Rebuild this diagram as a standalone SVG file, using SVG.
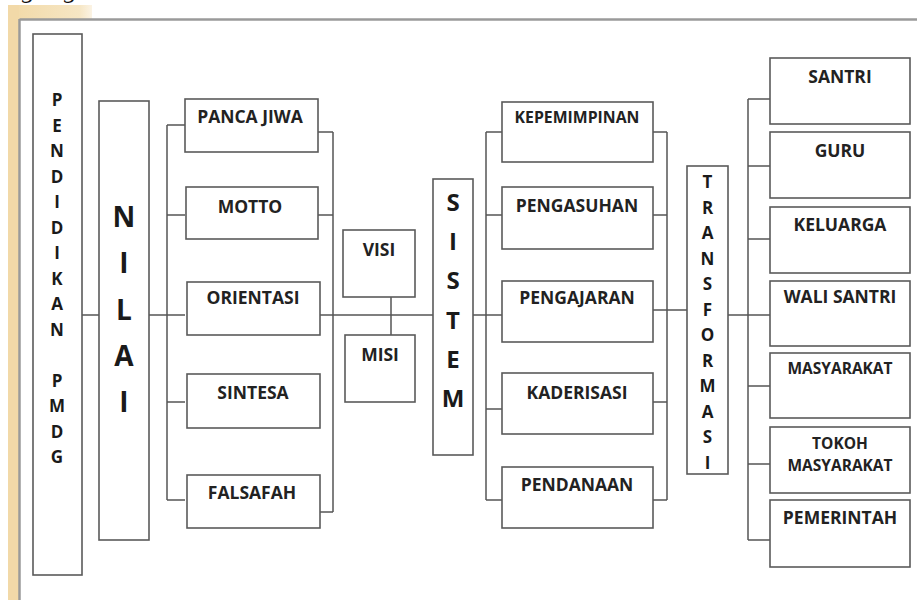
<svg xmlns="http://www.w3.org/2000/svg" width="917" height="600" viewBox="0 0 917 600">
<defs>
<linearGradient id="topfade" x1="0" y1="0" x2="1" y2="0">
<stop offset="0" stop-color="#f2d9a6"/>
<stop offset="0.85" stop-color="#f6e6c4"/>
<stop offset="1" stop-color="#fbf3e4"/>
</linearGradient>
<style>
.box{fill:#fff;stroke:#5a5a5a;stroke-width:1.6}
.ln{stroke:#555;stroke-width:1.5;fill:none}
.t{font-family:"Open Sans","Liberation Sans",sans-serif;font-weight:bold;fill:#222;text-anchor:middle;font-size:17.5px}
.s{font-size:15.5px}
.xs{font-size:15.8px}
.v{font-family:"Open Sans","Liberation Sans",sans-serif;font-weight:bold;fill:#1a1a1a;text-anchor:middle}
</style>
</defs>
<rect x="0" y="0" width="917" height="600" fill="#fff"/>
<rect x="8" y="5" width="84" height="14" fill="url(#topfade)"/>
<rect x="8" y="5" width="11" height="595" fill="#f2d9a8"/>
<line x1="19.5" y1="19.5" x2="917" y2="19.5" stroke="#9a9a9a" stroke-width="2.5"/>
<line x1="19.5" y1="19" x2="19.5" y2="600" stroke="#9a9a9a" stroke-width="2.5"/>
<text x="22" y="-2" font-family="Liberation Serif,serif" font-style="italic" font-size="26" fill="#111">g</text>
<text x="64" y="-2" font-family="Liberation Serif,serif" font-style="italic" font-size="26" fill="#111">g</text>

<g id="connectors">
<line class="ln" x1="82" y1="315" x2="99" y2="315"/>
<line class="ln" x1="149" y1="315" x2="185" y2="315"/>
<line class="ln" x1="167" y1="125" x2="167" y2="500"/>
<line class="ln" x1="167" y1="125" x2="185" y2="125"/>
<line class="ln" x1="167" y1="215" x2="185" y2="215"/>
<line class="ln" x1="167" y1="402" x2="185" y2="402"/>
<line class="ln" x1="167" y1="500" x2="185" y2="500"/>
<line class="ln" x1="333" y1="132" x2="333" y2="512"/>
<line class="ln" x1="318" y1="132" x2="333" y2="132"/>
<line class="ln" x1="318" y1="215" x2="333" y2="215"/>
<line class="ln" x1="318" y1="512" x2="333" y2="512"/>
<line class="ln" x1="318" y1="315" x2="433" y2="315"/>
<line class="ln" x1="391" y1="297" x2="391" y2="335"/>
<line class="ln" x1="473" y1="315" x2="502" y2="315"/>
<line class="ln" x1="486" y1="132" x2="486" y2="500"/>
<line class="ln" x1="486" y1="132" x2="502" y2="132"/>
<line class="ln" x1="486" y1="215" x2="502" y2="215"/>
<line class="ln" x1="486" y1="409" x2="502" y2="409"/>
<line class="ln" x1="486" y1="500" x2="502" y2="500"/>
<line class="ln" x1="667" y1="132" x2="667" y2="500"/>
<line class="ln" x1="653" y1="132" x2="667" y2="132"/>
<line class="ln" x1="653" y1="215" x2="667" y2="215"/>
<line class="ln" x1="653" y1="310" x2="687" y2="310"/>
<line class="ln" x1="653" y1="402" x2="667" y2="402"/>
<line class="ln" x1="653" y1="500" x2="667" y2="500"/>
<line class="ln" x1="728" y1="315" x2="748" y2="315"/>
<line class="ln" x1="748" y1="99" x2="748" y2="540"/>
<line class="ln" x1="748" y1="99" x2="770" y2="99"/>
<line class="ln" x1="748" y1="166" x2="770" y2="166"/>
<line class="ln" x1="748" y1="239" x2="770" y2="239"/>
<line class="ln" x1="748" y1="315" x2="770" y2="315"/>
<line class="ln" x1="748" y1="386" x2="770" y2="386"/>
<line class="ln" x1="748" y1="464" x2="770" y2="464"/>
<line class="ln" x1="748" y1="540" x2="770" y2="540"/>
</g>

<g id="pendidikan">
<rect class="box" x="33" y="34" width="49" height="541"/>
<text class="v" font-size="17"><tspan x="57" y="106">P</tspan><tspan x="57" y="131.5">E</tspan><tspan x="57" y="157">N</tspan><tspan x="57" y="182.5">D</tspan><tspan x="57" y="208">I</tspan><tspan x="57" y="233.5">D</tspan><tspan x="57" y="259">I</tspan><tspan x="57" y="284.5">K</tspan><tspan x="57" y="310">A</tspan><tspan x="57" y="335.5">N</tspan><tspan x="57" y="386.5">P</tspan><tspan x="57" y="412">M</tspan><tspan x="57" y="437.5">D</tspan><tspan x="57" y="463">G</tspan></text>
</g>

<g id="nilai">
<rect class="box" x="99" y="101" width="50" height="439"/>
<text class="v" font-size="28"><tspan x="124" y="227">N</tspan><tspan x="124" y="273">I</tspan><tspan x="124" y="320">L</tspan><tspan x="124" y="366">A</tspan><tspan x="124" y="412">I</tspan></text>
</g>

<g id="panca-jiwa"><rect class="box" x="185" y="99" width="133" height="53"/><text class="t" x="250" y="123">PANCA JIWA</text></g>
<g id="motto"><rect class="box" x="186" y="187" width="132" height="52"/><text class="t" x="250" y="213">MOTTO</text></g>
<g id="orientasi"><rect class="box" x="187" y="282" width="133" height="53"/><text class="t" x="253" y="304">ORIENTASI</text></g>
<g id="sintesa"><rect class="box" x="187" y="374" width="133" height="54"/><text class="t" x="253" y="399">SINTESA</text></g>
<g id="falsafah"><rect class="box" x="187" y="475" width="133" height="53"/><text class="t" x="252" y="499">FALSAFAH</text></g>

<g id="visi"><rect class="box" x="343" y="230" width="72" height="67"/><text class="t" x="379" y="256">VISI</text></g>
<g id="misi"><rect class="box" x="345" y="335" width="70" height="67"/><text class="t" x="380" y="361">MISI</text></g>

<g id="sistem">
<rect class="box" x="433" y="179" width="40" height="276"/>
<text class="v" font-size="24"><tspan x="453" y="210.5">S</tspan><tspan x="453" y="249.5">I</tspan><tspan x="453" y="288.5">S</tspan><tspan x="453" y="328.5">T</tspan><tspan x="453" y="367.5">E</tspan><tspan x="453" y="406.5">M</tspan></text>
</g>

<g id="kepemimpinan"><rect class="box" x="502" y="102" width="151" height="60"/><text class="t xs" x="577" y="122.5">KEPEMIMPINAN</text></g>
<g id="pengasuhan"><rect class="box" x="502" y="187" width="151" height="62"/><text class="t" x="577" y="212">PENGASUHAN</text></g>
<g id="pengajaran"><rect class="box" x="502" y="281" width="151" height="61"/><text class="t" x="577" y="304">PENGAJARAN</text></g>
<g id="kaderisasi"><rect class="box" x="502" y="373" width="151" height="61"/><text class="t" x="577" y="399">KADERISASI</text></g>
<g id="pendanaan"><rect class="box" x="502" y="467" width="151" height="61"/><text class="t" x="577" y="491">PENDANAAN</text></g>

<g id="transformasi">
<rect class="box" x="687" y="166" width="41" height="308"/>
<text class="v" font-size="17"><tspan x="707.5" y="188">T</tspan><tspan x="707.5" y="213.5">R</tspan><tspan x="707.5" y="239">A</tspan><tspan x="707.5" y="264.5">N</tspan><tspan x="707.5" y="290">S</tspan><tspan x="707.5" y="315.5">F</tspan><tspan x="707.5" y="341">O</tspan><tspan x="707.5" y="366.5">R</tspan><tspan x="707.5" y="392">M</tspan><tspan x="707.5" y="417.5">A</tspan><tspan x="707.5" y="443">S</tspan><tspan x="707.5" y="468.5">I</tspan></text>
</g>

<g id="santri"><rect class="box" x="770" y="58" width="140" height="66"/><text class="t" x="840" y="83">SANTRI</text></g>
<g id="guru"><rect class="box" x="770" y="132" width="140" height="66"/><text class="t" x="840" y="157">GURU</text></g>
<g id="keluarga"><rect class="box" x="770" y="207" width="140" height="66"/><text class="t" x="840" y="231">KELUARGA</text></g>
<g id="wali-santri"><rect class="box" x="770" y="281" width="140" height="65"/><text class="t" x="840" y="303">WALI SANTRI</text></g>
<g id="masyarakat"><rect class="box" x="770" y="353" width="140" height="65"/><text class="t s" x="840" y="374">MASYARAKAT</text></g>
<g id="tokoh-masyarakat"><rect class="box" x="770" y="427" width="140" height="66"/><text class="t s" x="840" y="449">TOKOH</text><text class="t s" x="840" y="471">MASYARAKAT</text></g>
<g id="pemerintah"><rect class="box" x="770" y="500" width="140" height="67"/><text class="t" x="840" y="524">PEMERINTAH</text></g>
</svg>
